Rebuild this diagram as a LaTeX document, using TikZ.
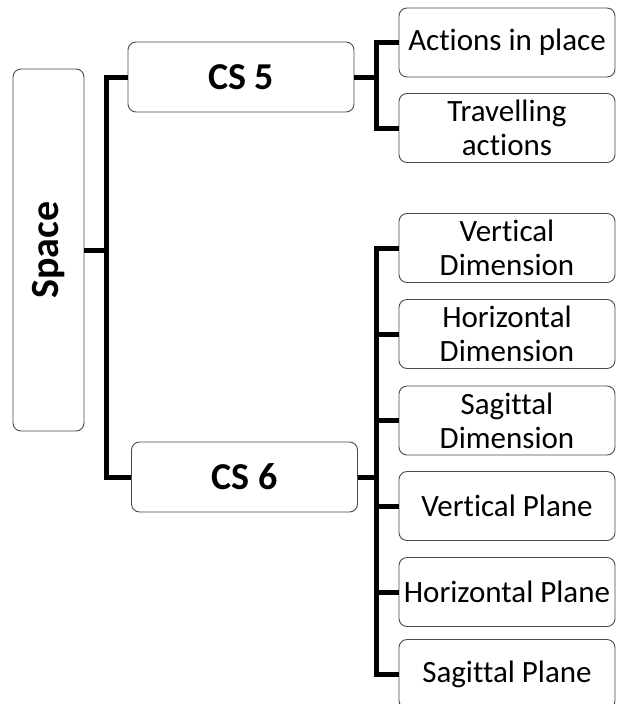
\documentclass[tikz,border=0pt]{standalone}
\usepackage{fontspec}
\setmainfont[Ligatures=NoCommon]{Carlito}
\begin{document}
\begin{tikzpicture}[x=1pt,y=-1pt,
  box/.style={draw=black!70, line width=0.9pt, rounded corners=8pt, inner sep=0pt, align=center, fill=white},
  leaf/.style={box, minimum width=216pt, minimum height=69pt, font=\fontsize{31}{34}\selectfont},
  mid/.style={box, minimum width=226pt, minimum height=70pt, font=\fontsize{38}{40}\selectfont\bfseries},
  conn/.style={line width=5pt, black}]
\useasboundingbox (0,0) rectangle (616,704);
\clip (0,0) rectangle (616,704);
\fill[white] (0,0) rectangle (616,704);
\node[box, minimum width=71pt, minimum height=362pt, font=\fontsize{40}{42}\selectfont\bfseries] (space) at (48.5,250) {\rotatebox{90}{Space}};
\node[mid] (cs5) at (241,77) {CS 5};
\node[mid] (cs6) at (244.5,477) {CS 6};
\node[leaf] (a1) at (507,42.5) {Actions in place};
\node[leaf] (a2) at (507,128) {Travelling\\actions};
\node[leaf] (b1) at (507,248) {Vertical\\Dimension};
\node[leaf] (b2) at (507,334) {Horizontal\\Dimension};
\node[leaf] (b3) at (507,420.5) {Sagittal\\Dimension};
\node[leaf] (b4) at (507,506) {Vertical Plane};
\node[leaf] (b5) at (507,592) {Horizontal Plane};
\node[leaf] (b6) at (507,674) {Sagittal Plane};
\draw[conn] (space.east) -- ++(22,0) |- (cs5.west);
\draw[conn] (space.east) -- ++(22,0) |- (cs6.west);
\draw[conn] (cs5.east) -- ++(22,0) |- (a1.west);
\draw[conn] (cs5.east) -- ++(22,0) |- (a2.west);
\foreach \n in {b1,b2,b3,b4,b5,b6}
  \draw[conn] (cs6.east) -- ++(19,0) |- (\n.west);
\end{tikzpicture}
\end{document}
